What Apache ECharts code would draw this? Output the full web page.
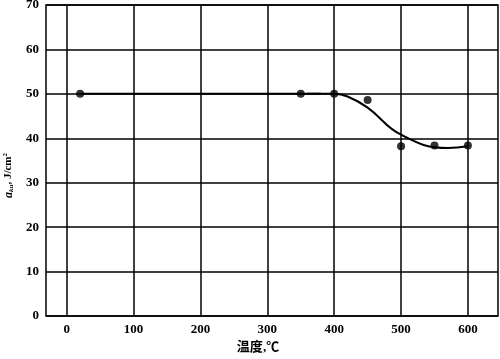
<!DOCTYPE html>
<html><head><meta charset="utf-8">
<script src="https://cdn.jsdelivr.net/npm/echarts@6/dist/echarts.min.js"></script>
<style>html,body{margin:0;padding:0;background:#fff}#c{width:500px;height:359px}</style>
</head><body><div id="c"></div>
<script>
// measured points
const tempPoints = [20, 350, 400, 450, 500, 550, 600];
const akuPoints = [50, 50, 50, 48.6, 38.2, 38.4, 38.4];
// flat part of fitted line
const flatX = [20, 380];
const flatY = [50, 50];
// curved part of fitted line
const curveX = [360, 400, 420, 450, 500, 570, 600];
const curveY = [50, 50, 49.4, 46.9, 40.8, 37.8, 38.2];
const xTicks = [0, 100, 200, 300, 400, 500, 600];
const yTicks = [0, 10, 20, 30, 40, 50, 60, 70];

const chart = echarts.init(document.getElementById('c'));
const font = '"Liberation Serif", "Noto Sans CJK SC", serif';
chart.setOption({
  animation: false,
  grid: {left: 46, right: 2, top: 5, bottom: 43, containLabel: false, outerBoundsMode: 'none'},
  xAxis: {
    type: 'value', min: -31, max: 645,
    axisLine: {show: false}, axisTick: {show: false},
    splitLine: {show: false},
    axisLabel: {color: '#000', fontFamily: font, fontWeight: 'bold', fontSize: 13, margin: 7,
      customValues: xTicks},
    name: '温度,℃', nameLocation: 'middle', nameGap: 25,
    nameTextStyle: {color: '#000', fontFamily: font, fontWeight: 'bold', fontSize: 13, padding: [0, 28, 0, 0]}
  },
  yAxis: {
    type: 'value', min: 0, max: 70, interval: 10,
    axisLine: {show: false}, axisTick: {show: false},
    splitLine: {show: true, lineStyle: {color: '#000', width: 1.5}},
    axisLabel: {color: '#000', fontFamily: font, fontWeight: 'bold', fontSize: 13, margin: 7},
    name: '{i|a}{s|ku}{a|, J/cm}{p|2}', nameLocation: 'middle', nameGap: 31,
    nameTextStyle: {
      padding: [0, 30, 0, 0],
      rich: {
        i: {color: '#000', fontFamily: font, fontWeight: 'bold', fontStyle: 'italic', fontSize: 12},
        a: {color: '#000', fontFamily: font, fontWeight: 'bold', fontSize: 11},
        s: {color: '#000', fontFamily: font, fontWeight: 'bold', fontStyle: 'italic', fontSize: 7, verticalAlign: 'bottom', padding: [5, 0, 0, 0]},
        p: {color: '#000', fontFamily: font, fontWeight: 'bold', fontSize: 7, verticalAlign: 'top', padding: [0, 0, 6, 0]}
      }
    }
  },
  graphic: [{
    type: 'rect', shape: {x: 46, y: 5, width: 452, height: 311},
    style: {fill: 'none', stroke: '#000', lineWidth: 1.5}, silent: true, z: 10
  }],
  series: [{
    type: 'line', data: flatX.map((x, i) => [x, flatY[i]]),
    showSymbol: false, lineStyle: {color: '#000', width: 2}, z: 3,
    markLine: {
      silent: true, symbol: 'none', label: {show: false},
      lineStyle: {color: '#000', width: 1.5, type: 'solid'},
      data: xTicks.map(v => ({xAxis: v}))
    }
  }, {
    type: 'line', data: curveX.map((x, i) => [x, curveY[i]]),
    smooth: 0.45, showSymbol: false,
    lineStyle: {color: '#000', width: 2}, z: 3
  }, {
    type: 'scatter', data: tempPoints.map((x, i) => [x, akuPoints[i]]),
    symbol: 'circle', symbolSize: 8, itemStyle: {color: '#000'}, z: 4
  }]
});
</script></body></html>
